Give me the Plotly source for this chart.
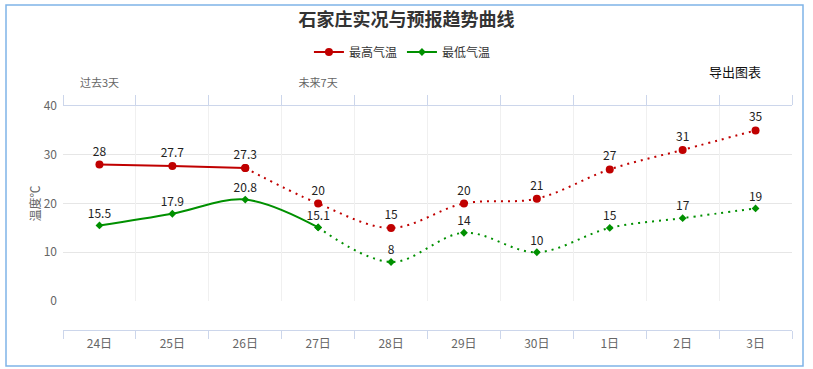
import plotly.graph_objects as go

# ---- data ----
days = ["24日", "25日", "26日", "27日", "28日", "29日", "30日", "1日", "2日", "3日"]
high = [28, 27.7, 27.3, 20, 15, 20, 21, 27, 31, 35]
low = [15.5, 17.9, 20.8, 15.1, 8, 14, 10, 15, 17, 19]
top_labels = ["过去3天", "", "", "未来7天", "", "", "", "", "", ""]
high_obs_n = 3   # observed points for max temp
low_obs_n = 4    # observed points for min temp

RED = "#c00000"
GREEN = "#009000"
FONT = "Noto Sans CJK SC"
DOT = "2px,5px"


def fmt(v):
    return ("%g" % v)


fig = go.Figure()

# max temp: observed (solid) + forecast (dotted)
fig.add_trace(go.Scatter(
    x=days[:high_obs_n], y=high[:high_obs_n], name="最高气温", legendgroup="h",
    mode="lines+markers+text", line=dict(color=RED, width=2, shape="spline"),
    marker=dict(color=RED, size=8, symbol="circle"),
    text=[fmt(v) for v in high[:high_obs_n]], textposition="top center",
    textfont=dict(size=12, color="#222"), hoverinfo="skip", cliponaxis=False))
fig.add_trace(go.Scatter(
    x=days[high_obs_n - 1:], y=high[high_obs_n - 1:], legendgroup="h", showlegend=False,
    mode="lines+markers+text", line=dict(color=RED, width=2, shape="spline", dash=DOT),
    marker=dict(color=RED, size=8, symbol="circle"),
    text=[""] + [fmt(v) for v in high[high_obs_n:]], textposition="top center",
    textfont=dict(size=12, color="#222"), hoverinfo="skip", cliponaxis=False))

# min temp
fig.add_trace(go.Scatter(
    x=days[:low_obs_n], y=low[:low_obs_n], name="最低气温", legendgroup="l",
    mode="lines+markers+text", line=dict(color=GREEN, width=2, shape="spline"),
    marker=dict(color=GREEN, size=6, symbol="diamond"),
    text=[fmt(v) for v in low[:low_obs_n]], textposition="top center",
    textfont=dict(size=12, color="#222"), hoverinfo="skip", cliponaxis=False))
fig.add_trace(go.Scatter(
    x=days[low_obs_n - 1:], y=low[low_obs_n - 1:], legendgroup="l", showlegend=False,
    mode="lines+markers+text", line=dict(color=GREEN, width=2, shape="spline", dash=DOT),
    marker=dict(color=GREEN, size=6, symbol="diamond"),
    text=[""] + [fmt(v) for v in low[low_obs_n:]], textposition="top center",
    textfont=dict(size=12, color="#222"), hoverinfo="skip", cliponaxis=False))

# invisible trace to activate top axis
fig.add_trace(go.Scatter(x=days, y=high, xaxis="x2", mode="markers",
                         marker=dict(opacity=0), showlegend=False, hoverinfo="skip"))

AX = "#ccd6eb"
L, R, T, B = 63, 21, 106, 39
W, H = 813, 369
plot_h = H - T - B
zero_frac = (330 - 301) / plot_h

fig.update_layout(
    width=W, height=H, autosize=False,
    margin=dict(l=L, r=R, t=T, b=B, pad=0, autoexpand=False),
    paper_bgcolor="white", plot_bgcolor="white",
    font=dict(family=FONT, size=12, color="#333"),
    title=dict(text="<b>石家庄实况与预报趋势曲线</b>", x=0.5, xref="container", xanchor="center",
               y=1 - 20 / H, yref="container", yanchor="middle", automargin=False,
               font=dict(size=18, color="#333", family=FONT)),
    showlegend=True,
    legend=dict(orientation="h", xref="container", yref="container", x=0.495, xanchor="center",
                y=1 - 52 / H, yanchor="middle", font=dict(size=12, color="#333"),
                itemwidth=30, bgcolor="rgba(0,0,0,0)"),
    xaxis=dict(type="category", categoryorder="array", categoryarray=days,
               range=[-0.5, len(days) - 0.5], anchor="free", position=0, automargin=False,
               showline=True, linecolor=AX, linewidth=1,
               ticks="outside", ticklen=8, tickcolor=AX, tickson="boundaries",
               ticklabelstandoff=3,
               showgrid=False, zeroline=False,
               tickfont=dict(size=12, color="#666"), fixedrange=True),
    xaxis2=dict(type="category", categoryorder="array", categoryarray=days,
                range=[-0.5, len(days) - 0.5], overlaying="x", side="top", anchor="y",
                automargin=False,
                showline=True, linecolor=AX, linewidth=1,
                ticks="outside", ticklen=10, tickcolor=AX, tickson="boundaries",
                showgrid=True, gridcolor="#f0f0f0", gridwidth=1, zeroline=False,
                tickmode="array", tickvals=days, ticktext=top_labels,
                ticklabelstandoff=14,
                tickfont=dict(size=11, color="#666"), fixedrange=True),
    yaxis=dict(domain=[zero_frac, 1], range=[0, 40], dtick=10, tick0=0, automargin=False,
               showgrid=True, gridcolor="#e6e6e6", gridwidth=1, zeroline=False,
               showline=False, ticks="", ticklabelstandoff=5,
               tickfont=dict(size=12, color="#666"),
               title=dict(text="温度℃", font=dict(size=12, color="#666"), standoff=0),
               fixedrange=True),
    annotations=[dict(text="导出图表", xref="paper", yref="paper",
                      x=(735 - L) / (W - L - R), y=(H - B - 71) / plot_h,
                      xanchor="center", yanchor="middle", showarrow=False,
                      font=dict(size=13, color="#111"))],
    shapes=[dict(type="rect", xref="paper", yref="paper",
                 x0=(6 - L) / (W - L - R), x1=(803 - L) / (W - L - R),
                 y0=(H - B - 366) / plot_h, y1=(H - B - 5) / plot_h,
                 line=dict(color="#7fb4e8", width=1.5), fillcolor="rgba(0,0,0,0)", layer="below")],
)

fig.write_html("out.html", config={"displayModeBar": False},
               post_script="document.body.style.margin='0';document.body.style.overflow='hidden';")
